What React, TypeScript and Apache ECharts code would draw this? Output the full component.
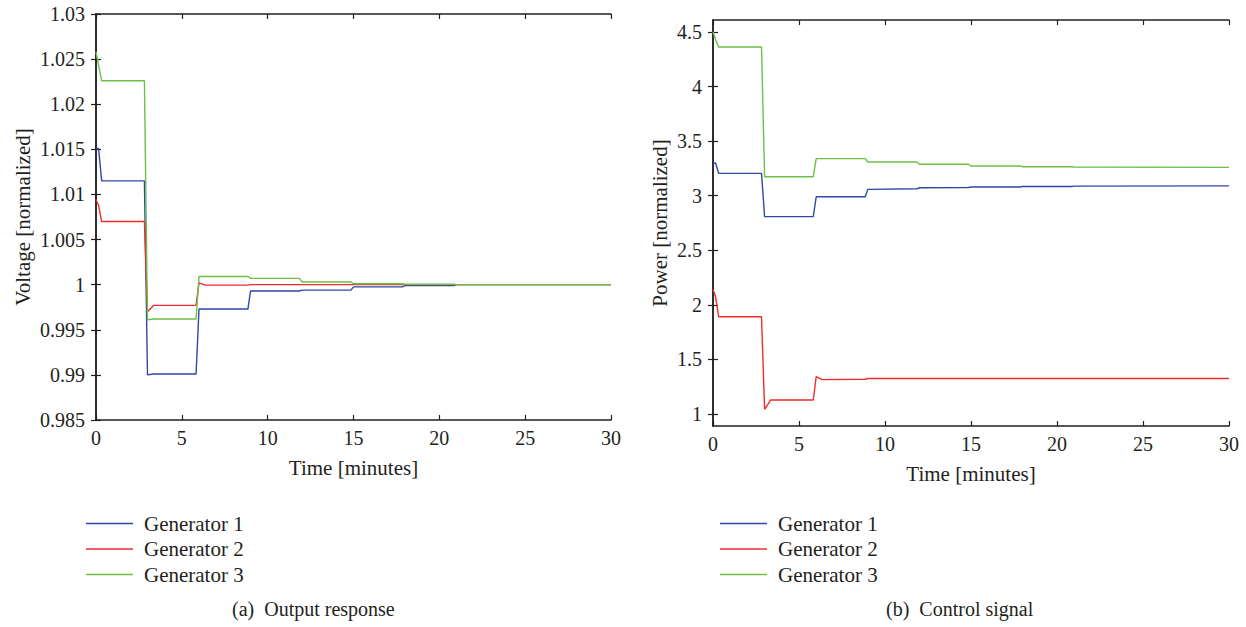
import React, { useEffect, useRef } from "react";
import * as echarts from "echarts";

// Shared time breakpoints (minutes)
const timeMinutes = [0, 0.15, 0.33, 2.82, 3.0, 3.35, 5.83, 6.0, 6.35, 8.85, 9.0, 11.85, 12.0, 14.85, 15.0, 17.85, 18.0, 20.85, 21.0, 30];

// (a) Output response – voltage [normalized]
const voltGen1 = [1.0151, 1.0151, 1.0115, 1.0115, 0.99, 0.9901, 0.9901, 0.9973, 0.9973, 0.9973, 0.9993, 0.9993, 0.9994, 0.9994, 0.99975, 0.99975, 0.9999, 0.9999, 1.0, 1.0];
const voltGen2 = [1.0094, 1.0088, 1.007, 1.007, 0.997, 0.9977, 0.9977, 1.0002, 0.99995, 0.99995, 1.0, 1.0, 1.0, 1.0, 1.0, 1.0, 1.0, 1.0, 1.0, 1.0];
const voltGen3 = [1.0258, 1.0243, 1.0226, 1.0226, 0.9961, 0.9962, 0.9962, 1.0009, 1.0009, 1.0009, 1.0007, 1.0007, 1.0003, 1.0003, 1.0001, 1.0001, 1.00005, 1.00005, 1.0, 1.0];

// (b) Control signal – power [normalized]
const powGen1 = [3.297, 3.3, 3.205, 3.205, 2.808, 2.808, 2.808, 2.99, 2.99, 2.99, 3.058, 3.064, 3.073, 3.075, 3.08, 3.08, 3.085, 3.085, 3.088, 3.09];
const powGen2 = [2.142, 2.075, 1.891, 1.891, 1.043, 1.128, 1.128, 1.342, 1.315, 1.318, 1.325, 1.325, 1.325, 1.325, 1.325, 1.325, 1.325, 1.325, 1.325, 1.325];
const powGen3 = [4.503, 4.43, 4.362, 4.362, 3.174, 3.174, 3.174, 3.34, 3.34, 3.34, 3.309, 3.309, 3.288, 3.288, 3.272, 3.272, 3.266, 3.266, 3.263, 3.26];

const seriesNames = ["Generator 1", "Generator 2", "Generator 3"];
const seriesColors = ["#2f47a8", "#ef2b2b", "#6dbf48"];
const powerTicks = [1, 1.5, 2, 2.5, 3, 3.5, 4, 4.5];

const FONT = "Liberation Serif";
const INK = "#231f20";

const pairs = (vals: number[]) => timeMinutes.map((t, i) => [t, vals[i]]);

export default function App() {
  const ref = useRef<HTMLDivElement>(null);
  useEffect(() => {
    if (!ref.current) return;
    const chart = echarts.init(ref.current, undefined, { renderer: "svg" });
    const axisLine = { show: true, lineStyle: { color: INK, width: 1.5 } };
    const tick = { show: true, inside: true, length: 5, lineStyle: { color: INK, width: 1.2 } };
    const lbl = { color: INK, fontFamily: FONT, fontSize: 20 };
    const nameStyle = { color: INK, fontFamily: FONT, fontSize: 21 };

    const xAxisFor = (gridIndex: number, position: "bottom" | "top", withLabel: boolean) => ({
      type: "value",
      gridIndex,
      position,
      min: 0,
      max: 30,
      interval: 5,
      axisLine: { ...axisLine, onZero: false },
      axisTick: tick,
      splitLine: { show: false },
      axisLabel: withLabel ? { ...lbl, margin: 8 } : { show: false },
      name: withLabel ? "Time [minutes]" : "",
      nameLocation: "middle",
      nameGap: 37,
      nameTextStyle: nameStyle,
    });

    const lines = (vals: number[][], xi: number, yi: number) =>
      vals.map((v, i) => ({
        type: "line",
        name: seriesNames[i],
        xAxisIndex: xi,
        yAxisIndex: yi,
        data: pairs(v),
        showSymbol: false,
        symbol: "none",
        color: seriesColors[i],
        lineStyle: { width: 1.4, color: seriesColors[i] },
        z: 2 + i,
      }));

    const legendFor = (left: number) => ({
      left,
      top: 513,
      padding: 0,
      orient: "vertical",
      icon: "rect",
      itemWidth: 47,
      itemHeight: 1.5,
      itemGap: 4.5,
      data: seriesNames,
      textStyle: { color: INK, fontFamily: FONT, fontSize: 21, lineHeight: 21, padding: [0, 0, 0, 6] },
    });

    chart.setOption({
      animation: false,
      backgroundColor: "#ffffff",
      textStyle: { fontFamily: FONT },
      grid: [
        { left: 96, top: 14, width: 515, height: 406, containLabel: false },
        { left: 713, top: 20, width: 516, height: 406, containLabel: false },
      ],
      xAxis: [
        xAxisFor(0, "bottom", true),
        xAxisFor(0, "top", false),
        xAxisFor(1, "bottom", true),
        xAxisFor(1, "top", false),
      ],
      yAxis: [
        {
          type: "value",
          gridIndex: 0,
          position: "left",
          min: 0.985,
          max: 1.03,
          interval: 0.005,
          axisLine,
          axisTick: tick,
          splitLine: { show: false },
          axisLabel: { ...lbl, margin: 11, formatter: (v: number) => String(parseFloat(v.toFixed(3))) },
          name: "Voltage [normalized]",
          nameLocation: "middle",
          nameGap: 63,
          nameTextStyle: nameStyle,
        },
        {
          type: "value",
          gridIndex: 0,
          position: "right",
          min: 0.985,
          max: 1.03,
          interval: 0.005,
          axisLine,
          axisTick: tick,
          splitLine: { show: false },
          axisLabel: { show: false },
        },
        {
          type: "value",
          gridIndex: 1,
          position: "left",
          min: 0.89,
          max: 4.61,
          axisLine,
          axisTick: { ...tick, customValues: powerTicks },
          splitLine: { show: false },
          axisLabel: { ...lbl, margin: 11, customValues: powerTicks, formatter: (v: number) => String(parseFloat(v.toFixed(2))) },
          name: "Power [normalized]",
          nameLocation: "middle",
          nameGap: 43,
          nameTextStyle: nameStyle,
        },
        {
          type: "value",
          gridIndex: 1,
          position: "right",
          min: 0.89,
          max: 4.61,
          axisLine,
          axisTick: { ...tick, customValues: powerTicks },
          splitLine: { show: false },
          axisLabel: { show: false, customValues: powerTicks },
        },
      ],
      legend: [legendFor(86), legendFor(720)],
      graphic: [
        {
          type: "text",
          left: 232,
          top: 599,
          style: { text: "(a)  Output response", fill: INK, font: `20px ${FONT}` },
        },
        {
          type: "text",
          left: 886,
          top: 599,
          style: { text: "(b)  Control signal", fill: INK, font: `20px ${FONT}` },
        },
      ],
      series: [
        ...lines([voltGen1, voltGen2, voltGen3], 0, 0),
        ...lines([powGen1, powGen2, powGen3], 2, 2),
      ],
    });
    return () => chart.dispose();
  }, []);
  return (
    <div
      ref={ref}
      style={{ position: "fixed", left: 0, top: 0, width: 1246, height: 627, background: "#fff" }}
    />
  );
}
